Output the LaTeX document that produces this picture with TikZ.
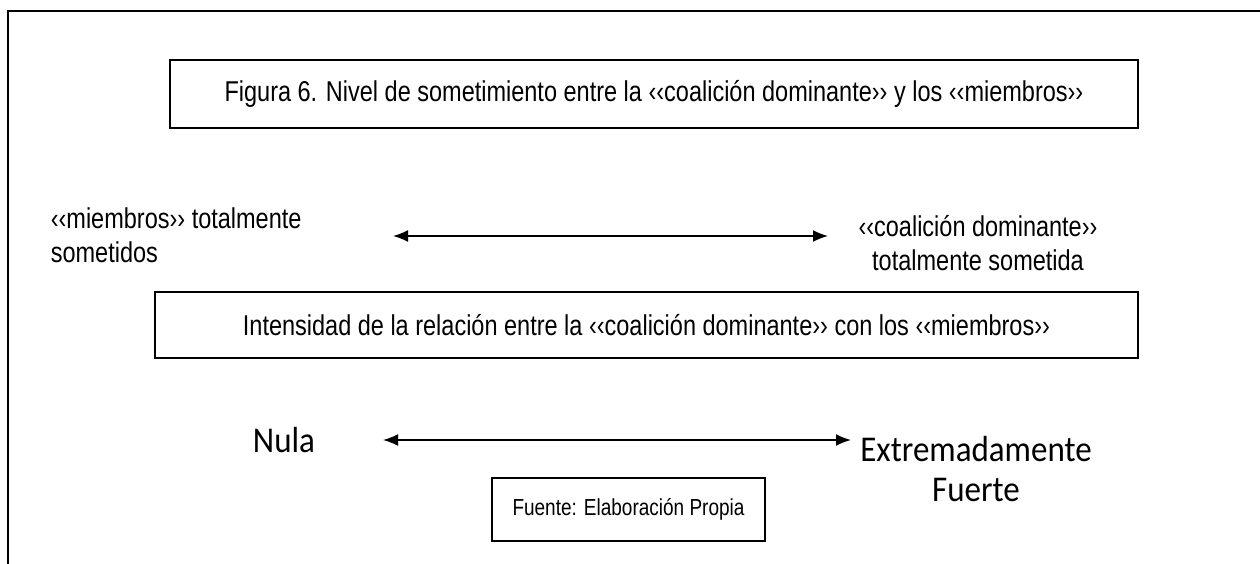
\documentclass[tikz,border=0pt]{standalone}
\usepackage{fontspec}
\usepackage{graphicx}
\setmainfont{Liberation Sans}
\newfontfamily\calibrifont{Carlito}
\usetikzlibrary{arrows.meta}
\newcommand{\vstretch}[1]{\scalebox{1}[1.22]{#1}}

\begin{document}
\begin{tikzpicture}[x=1pt,y=-1pt,<->,>={Latex[length=15pt,width=12pt]},
                line width=1.6pt,
                frame box/.style={draw,inner sep=0pt,line width=1.5pt},
                arial text/.style={font=\fontsize{23.5}{34}\selectfont},
                calibri text/.style={font=\calibrifont\fontsize{33}{40}\selectfont}]

  \useasboundingbox (0,0) rectangle (1260,564);

  % outer frame (only top and left edges show)
  \draw[-,line width=2.5pt] (1260,11) -- (8,11) -- (8,564);

  \node[frame box,arial text,minimum width=968pt,minimum height=68pt] (title) at (654,94)
    {\vstretch{Figura 6. Nivel de sometimiento entre la ‹‹coalición dominante›› y los ‹‹miembros››}};

  \node[arial text,align=left,anchor=west,inner sep=0pt] (members) at (50,235)
    {\vstretch{‹‹miembros›› totalmente}\\\vstretch{sometidos}};
  \node[arial text,align=center,inner sep=0pt] (coalition) at (978,243)
    {\vstretch{‹‹coalición dominante››}\\\vstretch{totalmente sometida}};

  \coordinate (top left) at (393,236);
  \coordinate (top right) at (828,236);
  \draw (top left) -- (top right);

  \node[frame box,arial text,minimum width=983pt,minimum height=66pt] (intensity) at (646.5,325)
    {\vstretch{Intensidad de la relación entre la ‹‹coalición dominante›› con los ‹‹miembros››}};

  \node[calibri text,inner sep=0pt] (null) at (284,440) {\scalebox{1}[1.1]{Nula}};
  \node[calibri text,align=center,inner sep=0pt] (strong) at (976,469)
    {\scalebox{1}[1.1]{Extremadamente}\\\scalebox{1}[1.1]{Fuerte}};

  \coordinate (low left) at (383,440);
  \coordinate (low right) at (851,440);
  \draw (low left) -- (low right);

  \node[frame box,font=\fontsize{19}{22}\selectfont,minimum width=273pt,minimum height=63pt] (source) at (628.5,509.5)
    {\vstretch{Fuente: Elaboración Propia}};
\end{tikzpicture}
\end{document}
